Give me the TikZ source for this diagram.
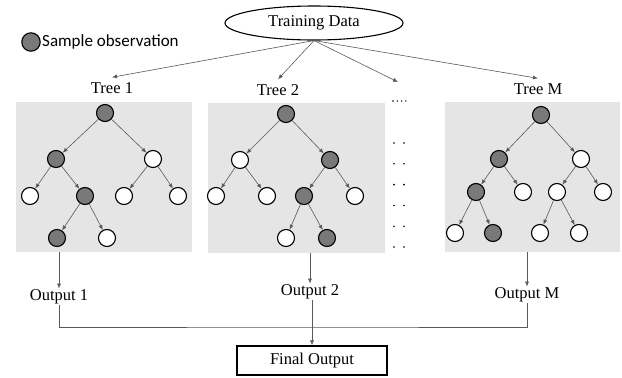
\documentclass[tikz,border=0pt]{standalone}
\usepackage{fontspec}
\setmainfont{Liberation Serif}
\newfontfamily\legendfont{Carlito}
\usetikzlibrary{shapes.geometric, arrows.meta, positioning, calc}

\tikzset{
    obs/.style={circle, draw, line width=1.1pt, fill=gray!95!black, minimum size=17pt, inner sep=0pt},
    leaf/.style={circle, draw, line width=1.1pt, fill=white, minimum size=17pt, inner sep=0pt},
    edge/.style={draw=black!65, line width=0.6pt, -{Latex[length=5pt,width=4pt]}},
    treebox/.style={fill=gray!20, inner sep=0pt},
    lbl/.style={font=\fontsize{16.5}{18}\selectfont, inner sep=5pt},
    outlbl/.style={font=\fontsize{16.5}{18}\selectfont, inner sep=1pt},
}

\begin{document}
\begin{tikzpicture}[x=1pt, y=-1pt]
    \useasboundingbox (0,0) rectangle (622,378);

    % Legend
    \draw[line width=1.1pt, fill=gray!95!black] (31,42) circle (9.2);
    \node[anchor=west, inner sep=0pt, font=\legendfont\fontsize{17}{19}\selectfont] (legend) at (42,42) {Sample observation};

    % Training data
    \node[ellipse, draw, line width=1.1pt, minimum width=178pt, minimum height=34pt, inner sep=0pt,
          font=\fontsize{16.5}{18}\selectfont] (train) at (314,23) {Training Data};

    % Tree labels
    \node[lbl] (lbl1) at (112,88) {Tree 1};
    \node[lbl] (lbl2) at (278,90) {Tree 2};
    \node[lbl] (lblM) at (538,89) {Tree M};
    \coordinate (dotstip) at (398,82);

    \draw[edge] (train.south) -- (lbl1.north);
    \draw[edge] (train.south) -- (lbl2.north);
    \draw[edge] (train.south) -- (dotstip);
    \draw[edge] (train.south) -- (lblM.north);

    % Gray boxes
    \node[treebox, minimum width=176pt, minimum height=150pt] (box1) at (104,177) {};
    \node[treebox, minimum width=177pt, minimum height=150pt] (box2) at (296.5,178) {};
    \node[treebox, minimum width=175pt, minimum height=150pt] (boxM) at (532.5,177) {};

    % Dots between trees
    \foreach \x in {393,397.3,401.6,405.9}
        \fill (\x,101) circle (0.8);
    \foreach \k in {0,...,5} {
        \fill (394,143+20.8*\k) circle (0.9);
        \fill (404,143+20.8*\k) circle (0.9);
    }

    % Tree 1
    \node[obs]  (t1a) at (105,113) {};
    \node[obs]  (t1b) at (56,159) {};
    \node[leaf] (t1c) at (153,159) {};
    \node[leaf] (t1d) at (30,196) {};
    \node[obs]  (t1e) at (85,196) {};
    \node[leaf] (t1f) at (124,196) {};
    \node[leaf] (t1g) at (178,196) {};
    \node[obs]  (t1h) at (57,238) {};
    \node[leaf] (t1i) at (107,238) {};
    \foreach \p/\c in {t1a/t1b, t1a/t1c, t1b/t1d, t1b/t1e, t1c/t1f, t1c/t1g, t1e/t1h, t1e/t1i}
        \draw[edge] (\p) -- (\c);

    % Tree 2
    \node[obs]  (t2a) at (286,114) {};
    \node[leaf] (t2b) at (240,160) {};
    \node[obs]  (t2c) at (330,160) {};
    \node[leaf] (t2d) at (216,196) {};
    \node[leaf] (t2e) at (267,196) {};
    \node[obs]  (t2f) at (304,196) {};
    \node[leaf] (t2g) at (355,196) {};
    \node[leaf] (t2h) at (286,238) {};
    \node[obs]  (t2i) at (327,238) {};
    \foreach \p/\c in {t2a/t2b, t2a/t2c, t2b/t2d, t2b/t2e, t2c/t2f, t2c/t2g, t2f/t2h, t2f/t2i}
        \draw[edge] (\p) -- (\c);

    % Tree M
    \node[obs]  (tMa) at (541,115) {};
    \node[obs]  (tMb) at (499,159) {};
    \node[leaf] (tMc) at (581,159) {};
    \node[obs]  (tMd) at (476,192) {};
    \node[leaf] (tMe) at (523,192) {};
    \node[leaf] (tMf) at (557,192) {};
    \node[leaf] (tMg) at (603,192) {};
    \node[leaf] (tMh) at (455,233) {};
    \node[obs]  (tMi) at (493,233) {};
    \node[leaf] (tMj) at (540,233) {};
    \node[leaf] (tMk) at (579,233) {};
    \foreach \p/\c in {tMa/tMb, tMa/tMc, tMb/tMd, tMb/tMe, tMc/tMf, tMc/tMg, tMd/tMh, tMd/tMi, tMf/tMj, tMf/tMk}
        \draw[edge] (\p) -- (\c);

    % Outputs
    \node[outlbl] (out1) at (59,297) {Output 1};
    \node[outlbl] (out2) at (310,292) {Output 2};
    \node[outlbl] (outM) at (527,295) {Output M};

    \draw[edge] (out1.north |- box1.south) -- (out1.north);
    \draw[edge] (out2.north |- box2.south) -- (out2.north);
    \draw[edge] (outM.north |- boxM.south) -- (outM.north);

    % Final output
    \node[draw, line width=1.2pt, minimum width=150pt, minimum height=29pt, inner sep=0pt,
          font=\fontsize{16.5}{18}\selectfont] (final) at (312,360.5) {Final Output};
    \coordinate (join) at (312,327);

    \draw[draw=black!65, line width=0.6pt] (out1.south) |- (join) -| (outM.south);
    \draw[edge] (out2.south -| final.north) -- (final.north);
\end{tikzpicture}
\end{document}
